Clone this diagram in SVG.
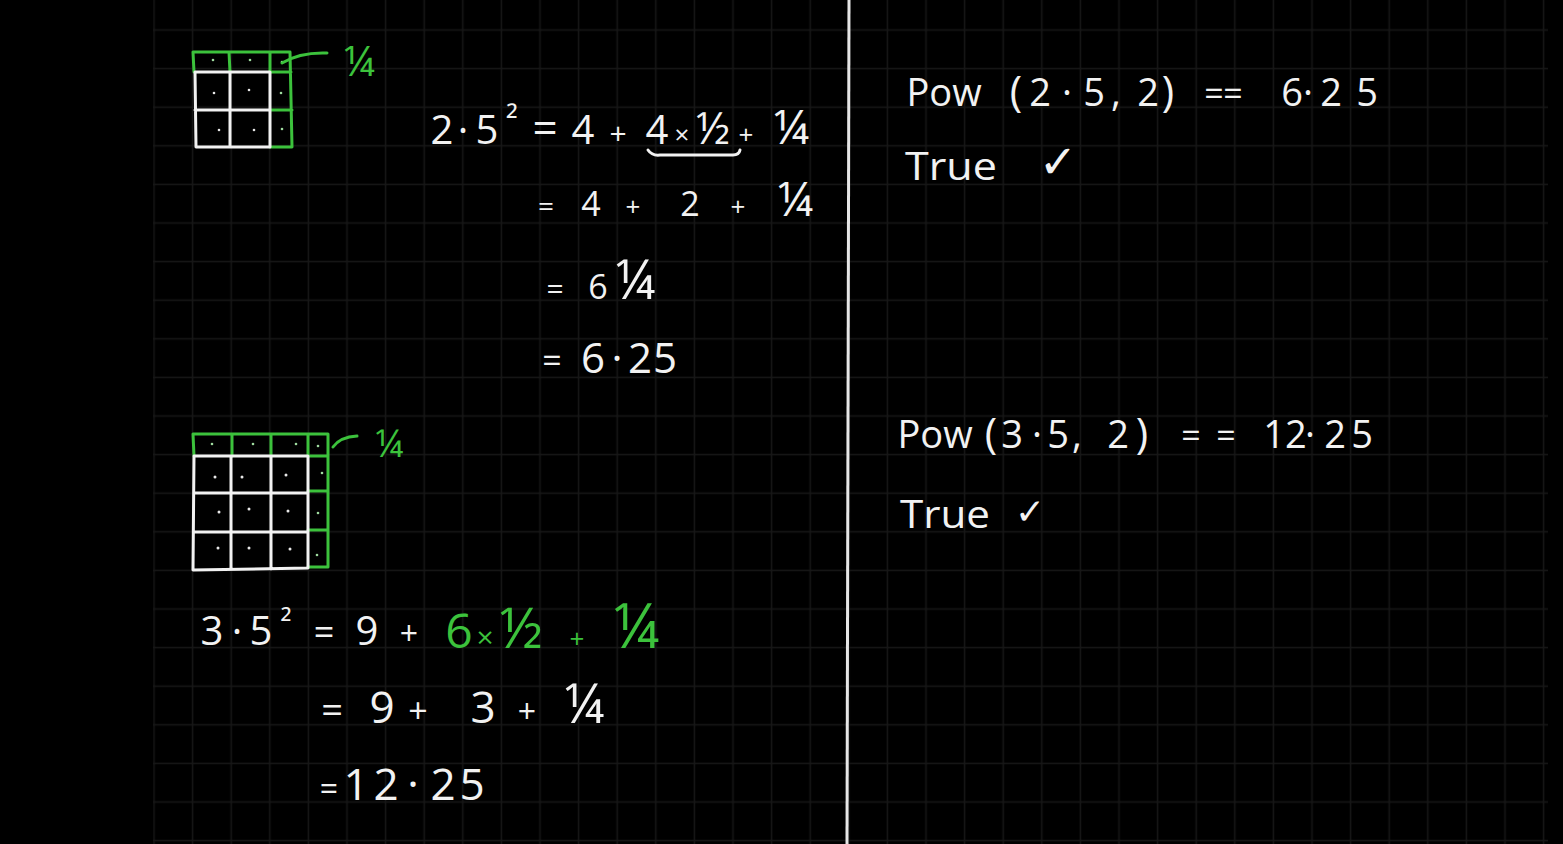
<svg xmlns="http://www.w3.org/2000/svg" width="1563" height="844" viewBox="0 0 1563 844">
<style>
.bg{fill:#000}
.w{fill:#f2f2f2;font-family:"Open Sans","Liberation Sans",sans-serif;text-anchor:middle}
.g{fill:#3cc23c;font-family:"Open Sans","Liberation Sans",sans-serif;text-anchor:middle}
.ws{fill:none;stroke:#f2f2f2;stroke-width:3;stroke-linecap:round;stroke-linejoin:round}
.gs{fill:none;stroke:#3cc23c;stroke-width:3;stroke-linecap:round;stroke-linejoin:round}
.dw{fill:#e8e8e8}
.dg{fill:#9fdc9f}
</style>
<defs>
<pattern id="grid" patternUnits="userSpaceOnUse" x="134.7" y="10.7" width="38.6" height="38.6">
<path d="M19.3,0 V38.6 M0,19.3 H38.6" stroke="#171717" stroke-width="1.5" fill="none"/>
</pattern>
</defs>
<rect class="bg" x="0" y="0" width="1563" height="844"/>
<rect x="153" y="0" width="1395" height="844" fill="url(#grid)"/>
<line x1="849" y1="0" x2="847" y2="844" stroke="#e6e6e6" stroke-width="3"/>

<g id="grid-top">
<path class="gs" d="M194,72 L193,52 L290,52 L292,147 L270,147 M229,52 L230,72 M270,52 L270,72 M270,72 L291,72 M270,110 L292,110"/>
<path class="ws" d="M195,72 L270,72 L270,147 L196,147 Z M230,72 L230,147 M195,110 L270,110"/>
<g class="dg"><circle cx="213" cy="60" r="1.3"/><circle cx="250" cy="60" r="1.3"/><circle cx="282" cy="62" r="1.3"/><circle cx="281" cy="93" r="1.3"/><circle cx="282" cy="129" r="1.3"/></g>
<g class="dw"><circle cx="214" cy="93" r="1.3"/><circle cx="249" cy="90" r="1.3"/><circle cx="219" cy="130" r="1.3"/><circle cx="254" cy="130" r="1.3"/></g>
<path class="gs" d="M282,63 Q300,52 327,53"/>
<text class="g" x="359" y="76" font-size="42">¼</text>
</g>

<g id="grid-bottom">
<path class="gs" d="M194,456 L193,434 L328,434 L328,567 L308,567 M232,434 L232,456 M271,434 L271,456 M308,434 L308,456 M308,456 L328,456 M308,491 L328,491 M308,530 L328,530"/>
<path class="ws" d="M194,456 L308,456 L308,568 L193,570 Z M231,456 L231,569 M271,456 L271,569 M194,493 L308,493 M194,532 L308,532"/>
<g class="dg"><circle cx="212" cy="444" r="1.3"/><circle cx="253" cy="444" r="1.3"/><circle cx="296" cy="444" r="1.3"/><circle cx="318" cy="446" r="1.3"/><circle cx="322" cy="473" r="1.3"/><circle cx="318" cy="513" r="1.3"/><circle cx="317" cy="555" r="1.3"/></g>
<g class="dw"><circle cx="215" cy="477" r="1.5"/><circle cx="242" cy="477" r="1.5"/><circle cx="286" cy="475" r="1.5"/><circle cx="219" cy="512" r="1.5"/><circle cx="249" cy="509" r="1.5"/><circle cx="288" cy="511" r="1.5"/><circle cx="218" cy="548" r="1.5"/><circle cx="249" cy="548" r="1.5"/><circle cx="290" cy="549" r="1.5"/></g>
<path class="gs" d="M333,447 Q340,437 357,436"/>
<text class="g" x="389" y="457" font-size="38">¼</text>
</g>

<g id="eq-top">
<text class="w" font-size="40" y="144"><tspan x="442">2</tspan><tspan x="463">·</tspan><tspan x="487">5</tspan><tspan x="512" y="132" font-size="34">²</tspan><tspan x="545" y="144" font-size="44">=</tspan><tspan x="583">4</tspan><tspan x="618" font-size="30">+</tspan><tspan x="657">4</tspan><tspan x="682" font-size="26">×</tspan><tspan x="713" font-size="44">½</tspan><tspan x="746" font-size="26">+</tspan><tspan x="791" font-size="48">¼</tspan></text>
<path class="ws" d="M648,150 Q652,156 660,155 L733,155 Q739,155 740,150"/>
<text class="w" font-size="34" y="216"><tspan x="546" font-size="28">=</tspan><tspan x="591">4</tspan><tspan x="633" font-size="26">+</tspan><tspan x="690">2</tspan><tspan x="738" font-size="26">+</tspan><tspan x="795" font-size="48">¼</tspan></text>
<text class="w" font-size="34" y="299"><tspan x="555" font-size="30">=</tspan><tspan x="598">6</tspan><tspan x="635" font-size="54">¼</tspan></text>
<text class="w" font-size="42" y="373"><tspan x="552" font-size="34">=</tspan><tspan x="593">6</tspan><tspan x="617">·</tspan><tspan x="640">2</tspan><tspan x="665">5</tspan></text>
</g>

<g id="eq-bottom">
<text class="w" font-size="40" y="645"><tspan x="212">3</tspan><tspan x="237">·</tspan><tspan x="261">5</tspan><tspan x="286" y="634" font-size="32">²</tspan><tspan x="324" y="645" font-size="36">=</tspan><tspan x="367">9</tspan><tspan x="409" font-size="32">+</tspan></text>
<text class="g" font-size="48" y="648"><tspan x="459">6</tspan><tspan x="485" font-size="30">×</tspan><tspan x="521" font-size="56">½</tspan><tspan x="577" font-size="26">+</tspan><tspan x="636" font-size="62">¼</tspan></text>
<text class="w" font-size="44" y="723"><tspan x="332" font-size="38">=</tspan><tspan x="382">9</tspan><tspan x="418" font-size="34">+</tspan><tspan x="483">3</tspan><tspan x="527" font-size="32">+</tspan><tspan x="584" font-size="54">¼</tspan></text>
<text class="w" font-size="44" y="800"><tspan x="329" font-size="32">=</tspan><tspan x="356">1</tspan><tspan x="386">2</tspan><tspan x="413">·</tspan><tspan x="443">2</tspan><tspan x="472">5</tspan></text>
</g>

<g id="pow-1">
<text class="w" font-size="38" y="106"><tspan x="944">Pow</tspan><tspan x="1016" font-size="42">(</tspan><tspan x="1040">2</tspan><tspan x="1067">·</tspan><tspan x="1094">5</tspan><tspan x="1116">,</tspan><tspan x="1148">2</tspan><tspan x="1168" font-size="42">)</tspan><tspan x="1214" font-size="34">=</tspan><tspan x="1233" font-size="34">=</tspan><tspan x="1292">6</tspan><tspan x="1308">·</tspan><tspan x="1331">2</tspan><tspan x="1367">5</tspan></text>
<text class="w" font-size="38" x="951" y="180" textLength="92" lengthAdjust="spacingAndGlyphs">True</text>
<text class="w" font-size="46" x="1058" y="178" style="font-family:'DejaVu Sans',sans-serif">✓</text>
</g>

<g id="pow-2">
<text class="w" font-size="38" y="448"><tspan x="935">Pow</tspan><tspan x="991" font-size="42">(</tspan><tspan x="1012">3</tspan><tspan x="1037">·</tspan><tspan x="1058">5</tspan><tspan x="1077">,</tspan><tspan x="1118">2</tspan><tspan x="1142" font-size="42">)</tspan><tspan x="1191" font-size="34">=</tspan><tspan x="1226" font-size="34">=</tspan><tspan x="1285">12</tspan><tspan x="1310">·</tspan><tspan x="1335">2</tspan><tspan x="1362">5</tspan></text>
<text class="w" font-size="38" x="945" y="528" textLength="90" lengthAdjust="spacingAndGlyphs">True</text>
<text class="w" font-size="36" x="1030" y="524" style="font-family:'DejaVu Sans',sans-serif">✓</text>
</g>
</svg>
